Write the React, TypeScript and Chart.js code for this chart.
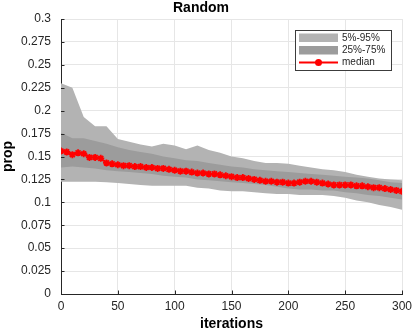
import React, { useEffect, useRef } from "react";
import { Chart, registerables } from "chart.js";

Chart.register(...registerables);

const TITLE = "Random";
const X_LABEL = "iterations";
const Y_LABEL = "prop";
const LEGEND_LABELS = ["5%-95%", "25%-75%", "median"];

const X_TICK_VALUES = [0, 50, 100, 150, 200, 250, 300];
const Y_TICK_VALUES = [0, 0.025, 0.05, 0.075, 0.1, 0.125, 0.15, 0.175, 0.2, 0.225, 0.25, 0.275, 0.3];
const Y_TICK_LABELS = ["0", "0.025", "0.05", "0.075", "0.1", "0.125", "0.15", "0.175", "0.2", "0.225", "0.25", "0.275", "0.3"];

const ITER_BAND = [0, 10, 20, 30, 40, 50, 60, 70, 80, 90, 100, 110, 120, 130, 140, 150, 160, 170, 180, 190, 200, 210, 220, 230, 240, 250, 260, 270, 280, 290, 300];
const P95 = [0.230, 0.225, 0.193, 0.183, 0.183, 0.169, 0.166, 0.163, 0.161, 0.164, 0.162, 0.158, 0.162, 0.157, 0.154, 0.150, 0.148, 0.145, 0.143, 0.143, 0.142, 0.140, 0.138, 0.136, 0.135, 0.133, 0.130, 0.128, 0.126, 0.125, 0.124];
const P75 = [0.176, 0.170, 0.170, 0.167, 0.164, 0.160, 0.157, 0.155, 0.153, 0.150, 0.148, 0.146, 0.145, 0.143, 0.141, 0.139, 0.138, 0.136, 0.135, 0.134, 0.133, 0.132, 0.131, 0.130, 0.129, 0.128, 0.127, 0.126, 0.124, 0.122, 0.121];
const P25 = [0.138, 0.139, 0.138, 0.137, 0.135, 0.134, 0.133, 0.132, 0.131, 0.129, 0.128, 0.127, 0.125, 0.124, 0.123, 0.122, 0.121, 0.120, 0.119, 0.117, 0.115, 0.114, 0.114, 0.113, 0.113, 0.111, 0.110, 0.108, 0.107, 0.105, 0.103];
const P5 = [0.1225, 0.1225, 0.1225, 0.1225, 0.122, 0.121, 0.120, 0.119, 0.118, 0.118, 0.118, 0.118, 0.116, 0.115, 0.113, 0.112, 0.112, 0.111, 0.110, 0.109, 0.109, 0.108, 0.108, 0.108, 0.107, 0.105, 0.102, 0.100, 0.097, 0.095, 0.092];

const ITER_MED = [0, 5, 10, 15, 20, 25, 30, 35, 40, 45, 50, 55, 60, 65, 70, 75, 80, 85, 90, 95, 100, 105, 110, 115, 120, 125, 130, 135, 140, 145, 150, 155, 160, 165, 170, 175, 180, 185, 190, 195, 200, 205, 210, 215, 220, 225, 230, 235, 240, 245, 250, 255, 260, 265, 270, 275, 280, 285, 290, 295, 300];
const MEDIAN = [0.156, 0.155, 0.152, 0.154, 0.153, 0.149, 0.149, 0.148, 0.143, 0.142, 0.141, 0.140, 0.140, 0.139, 0.139, 0.138, 0.138, 0.137, 0.137, 0.136, 0.135, 0.134, 0.134, 0.133, 0.132, 0.132, 0.131, 0.131, 0.130, 0.129, 0.128, 0.127, 0.127, 0.126, 0.125, 0.124, 0.123, 0.123, 0.122, 0.122, 0.121, 0.121, 0.122, 0.123, 0.123, 0.122, 0.121, 0.120, 0.119, 0.119, 0.119, 0.119, 0.118, 0.118, 0.117, 0.116, 0.116, 0.115, 0.114, 0.113, 0.112];

const FONT = "'Liberation Sans', Arial, Helvetica, sans-serif";
const TEXT = "#262626";
const LIGHT = "#b3b3b3";
const DARK = "#9c9c9c";
const RED = "#ff0000";

const toXY = (xs: number[], ys: number[]) => xs.map((x, i) => ({ x, y: ys[i] }));

const inwardTicks = {
  id: "inwardTicks",
  afterDatasetsDraw(chart: any) {
    const { ctx, chartArea, scales } = chart;
    ctx.save();
    ctx.strokeStyle = TEXT;
    ctx.lineWidth = 1;
    ctx.beginPath();
    scales.y.ticks.forEach((t: any) => {
      const y = Math.round(scales.y.getPixelForValue(t.value)) + 0.5;
      ctx.moveTo(chartArea.left, y);
      ctx.lineTo(chartArea.left + 3.5, y);
    });
    scales.x.ticks.forEach((t: any) => {
      const x = Math.round(scales.x.getPixelForValue(t.value)) + 0.5;
      ctx.moveTo(x, chartArea.bottom);
      ctx.lineTo(x, chartArea.bottom - 3.5);
    });
    ctx.stroke();
    ctx.restore();
  },
};

const boxLegend = {
  id: "boxLegend",
  afterDraw(chart: any) {
    const { ctx, chartArea } = chart;
    const w = 96;
    const h = 40;
    const x0 = chartArea.right - 11 - w;
    const y0 = chartArea.top + 11;
    ctx.save();
    ctx.fillStyle = "#ffffff";
    ctx.fillRect(x0, y0, w, h);
    ctx.strokeStyle = "#3c3c3c";
    ctx.lineWidth = 1;
    ctx.strokeRect(x0 + 0.5, y0 + 0.5, w, h);
    ctx.fillStyle = LIGHT;
    ctx.fillRect(x0 + 4, y0 + 3.5, 39, 8.5);
    ctx.fillStyle = DARK;
    ctx.fillRect(x0 + 4, y0 + 16, 39, 8.5);
    ctx.strokeStyle = RED;
    ctx.lineWidth = 2;
    ctx.beginPath();
    ctx.moveTo(x0 + 4, y0 + 32.5);
    ctx.lineTo(x0 + 43, y0 + 32.5);
    ctx.stroke();
    ctx.fillStyle = RED;
    ctx.beginPath();
    ctx.arc(x0 + 23.5, y0 + 32.5, 3.5, 0, Math.PI * 2);
    ctx.fill();
    ctx.fillStyle = TEXT;
    ctx.font = `10px ${FONT}`;
    ctx.textBaseline = "middle";
    ctx.textAlign = "left";
    ctx.fillText(LEGEND_LABELS[0], x0 + 47, y0 + 8);
    ctx.fillText(LEGEND_LABELS[1], x0 + 47, y0 + 20.5);
    ctx.fillText(LEGEND_LABELS[2], x0 + 47, y0 + 32.5);
    ctx.restore();
  },
};

export default function App() {
  const ref = useRef<HTMLCanvasElement | null>(null);

  useEffect(() => {
    if (!ref.current) return;
    const chart = new Chart(ref.current, {
      type: "line",
      data: {
        datasets: [
          {
            label: "p95",
            data: toXY(ITER_BAND, P95),
            borderWidth: 0,
            pointRadius: 0,
            backgroundColor: LIGHT,
            borderColor: LIGHT,
            fill: "+1",
            order: 3,
            tension: 0,
          },
          {
            label: "p5",
            data: toXY(ITER_BAND, P5),
            borderWidth: 0,
            pointRadius: 0,
            borderColor: LIGHT,
            fill: false,
            order: 3,
            tension: 0,
          },
          {
            label: "p75",
            data: toXY(ITER_BAND, P75),
            borderWidth: 0,
            pointRadius: 0,
            backgroundColor: DARK,
            borderColor: DARK,
            fill: "+1",
            order: 2,
            tension: 0,
          },
          {
            label: "p25",
            data: toXY(ITER_BAND, P25),
            borderWidth: 0,
            pointRadius: 0,
            borderColor: DARK,
            fill: false,
            order: 2,
            tension: 0,
          },
          {
            label: "median",
            data: toXY(ITER_MED, MEDIAN),
            borderColor: RED,
            backgroundColor: RED,
            borderWidth: 2,
            pointStyle: "star",
            pointRadius: 3.5,
            pointBorderWidth: 1.8,
            pointBorderColor: RED,
            pointBackgroundColor: RED,
            fill: false,
            order: 1,
            tension: 0,
          },
        ],
      },
      options: {
        responsive: false,
        animation: false,
        layout: { padding: { left: 0, right: 12, top: 0, bottom: 0 } },
        plugins: {
          legend: { display: false },
          tooltip: { enabled: false },
          title: {
            display: true,
            text: TITLE,
            color: "#000",
            font: { family: FONT, size: 14, weight: "bold", lineHeight: 1.2 },
            padding: { top: 0, bottom: 2.2 },
          },
        },
        scales: {
          x: {
            type: "linear",
            min: 0,
            max: 300,
            afterBuildTicks: (s: any) => {
              s.ticks = X_TICK_VALUES.map((v) => ({ value: v }));
            },
            afterFit: (s: any) => {
              s.height = 39;
              s.paddingRight = 0;
              s.paddingLeft = 0;
            },
            ticks: {
              color: TEXT,
              font: { family: FONT, size: 12 },
              padding: 5,
              maxRotation: 0,
              callback: (v: any) => String(v),
            },
            grid: { color: "#e6e6e6", drawTicks: false, lineWidth: 1 },
            border: { color: TEXT, width: 1 },
            title: {
              display: true,
              text: X_LABEL,
              color: "#000",
              font: { family: FONT, size: 14, weight: "bold", lineHeight: 1.2 },
              padding: { top: 0, bottom: 0 },
            },
          },
          y: {
            type: "linear",
            min: 0,
            max: 0.3,
            afterBuildTicks: (s: any) => {
              s.ticks = Y_TICK_VALUES.map((v) => ({ value: v }));
            },
            afterFit: (s: any) => {
              s.width = 61;
            },
            ticks: {
              color: TEXT,
              font: { family: FONT, size: 12 },
              padding: 10,
              callback: (_v: any, i: number) => Y_TICK_LABELS[i],
            },
            grid: { color: "#e6e6e6", drawTicks: false, lineWidth: 1 },
            border: { color: TEXT, width: 1 },
            title: {
              display: true,
              text: Y_LABEL,
              color: "#000",
              font: { family: FONT, size: 14, weight: "bold", lineHeight: 1.2 },
              padding: { top: 0, bottom: 0 },
            },
          },
        },
      },
      plugins: [inwardTicks, boxLegend],
    });
    return () => chart.destroy();
  }, []);

  return (
    <div style={{ position: "fixed", left: 0, top: 0, width: 414, height: 333, background: "#fff" }}>
      <canvas ref={ref} width={414} height={333} style={{ display: "block" }} />
    </div>
  );
}
